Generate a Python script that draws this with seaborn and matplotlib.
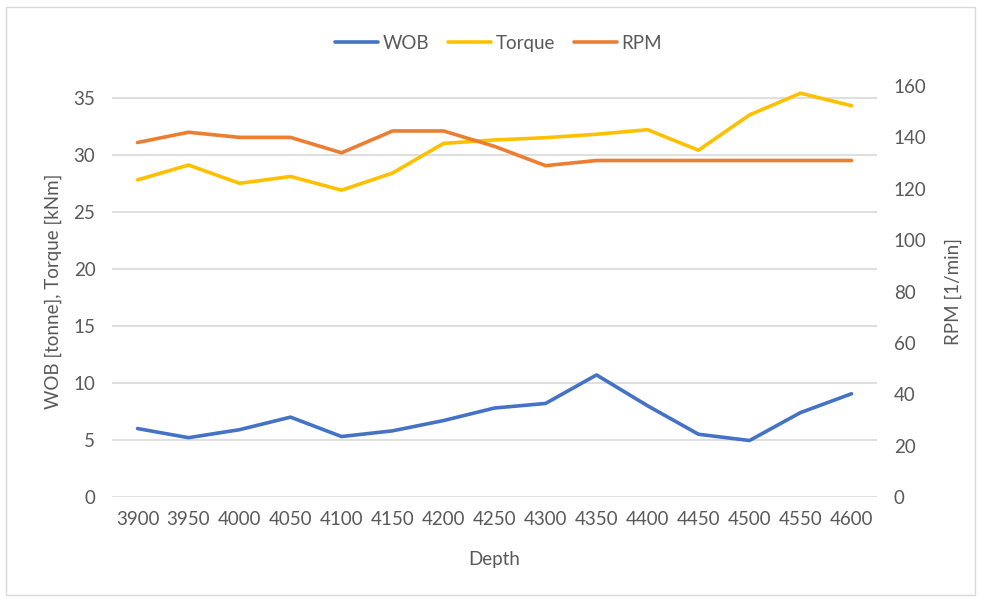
import numpy as np
import pandas as pd
import matplotlib.pyplot as plt
import matplotlib.patches as mpatches
import seaborn as sns

depth = [3900, 3950, 4000, 4050, 4100, 4150, 4200, 4250, 4300,
         4350, 4400, 4450, 4500, 4550, 4600]
wob = [6.0, 5.2, 5.9, 7.0, 5.3, 5.8, 6.7, 7.8, 8.2, 10.7, 8.0, 5.5, 4.95, 7.4, 9.05]
torque = [27.8, 29.1, 27.5, 28.1, 26.9, 28.4, 31.0, 31.3, 31.5, 31.8, 32.2, 30.4, 33.5, 35.4, 34.3]
rpm = [138, 142, 140, 140, 134, 142.5, 142.5, 136.5, 129, 131, 131, 131, 131, 131, 131]

c_wob = "#4472C4"
c_torque = "#FFC000"
c_rpm = "#ED7D31"
grey = "#595959"

sns.set_theme(style="white")
plt.rcParams['font.family'] = ['Lato', 'DejaVu Sans']

df = pd.DataFrame({"pos": np.arange(len(depth)), "depth": depth,
                   "WOB": wob, "Torque": torque, "RPM": rpm})

fig = plt.figure(figsize=(9.81, 5.99), dpi=100)
ax = fig.add_axes([0.1142, 0.1703, 0.7798, 0.6861])
ax2 = ax.twinx()

sns.lineplot(data=df, x="pos", y="WOB", ax=ax, color=c_wob, lw=2.6, label="WOB", legend=False)
sns.lineplot(data=df, x="pos", y="Torque", ax=ax, color=c_torque, lw=2.6, label="Torque", legend=False)
sns.lineplot(data=df, x="pos", y="RPM", ax=ax2, color=c_rpm, lw=2.6, label="RPM", legend=False)

ax.set_xlim(-0.5, len(depth) - 0.5)
ax.set_ylim(0, 36.03)
ax.set_yticks(range(0, 36, 5))
ax2.set_ylim(0, 160)
ax2.set_yticks(range(0, 161, 20))
ax.set_xticks(df["pos"])
ax.set_xticklabels([str(d) for d in depth])

ax.yaxis.grid(True, color="#D9D9D9", lw=1.2)
ax.set_axisbelow(True)
for a in (ax, ax2):
    for s in a.spines.values():
        s.set_visible(False)
    a.tick_params(length=0, labelsize=13.5, colors=grey)
ax.tick_params(axis="x", pad=10)
ax.tick_params(axis="y", pad=12)
ax2.tick_params(axis="y", pad=12)

ax.set_xlabel("Depth", fontsize=13.5, color=grey, labelpad=17)
ax.set_ylabel("WOB [tonne], Torque [kNm]", fontsize=13.5, color=grey, labelpad=8)
ax2.set_ylabel("RPM [1/min]", fontsize=13.5, color=grey, labelpad=13)

handles = [plt.Line2D([], [], color=c, lw=2.6) for c in (c_wob, c_torque, c_rpm)]
fig.legend(handles, ["WOB", "Torque", "RPM"], loc="center", bbox_to_anchor=(0.508, 0.928),
           ncol=3, frameon=False, fontsize=13.5, labelcolor=grey,
           handlelength=2.3, handletextpad=0.25, columnspacing=1.0)

fig.patches.append(mpatches.Rectangle((0.006, 0.006), 0.988, 0.983, transform=fig.transFigure,
                                      fill=False, edgecolor="#D9D9D9", lw=1))

fig.savefig("out.png", dpi=100)
